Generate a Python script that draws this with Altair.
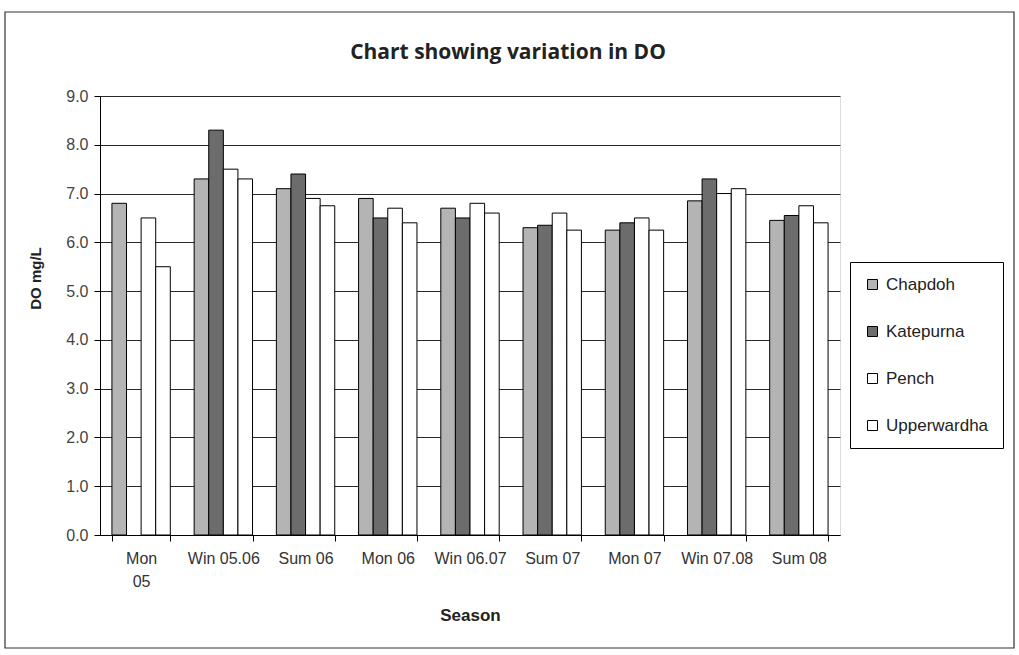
import altair as alt
import pandas as pd

# Seasons on the x axis
seasons = ["Mon 05", "Win 05.06", "Sum 06", "Mon 06", "Win 06.07",
           "Sum 07", "Mon 07", "Win 07.08", "Sum 08"]

# Dissolved oxygen (mg/L) per reservoir and season
chapdoh = [6.8, 7.3, 7.1, 6.9, 6.7, 6.3, 6.25, 6.85, 6.45]
katepurna = [None, 8.3, 7.4, 6.5, 6.5, 6.35, 6.4, 7.3, 6.55]
pench = [6.5, 7.5, 6.9, 6.7, 6.8, 6.6, 6.5, 7.0, 6.75]
upperwardha = [5.5, 7.3, 6.75, 6.4, 6.6, 6.25, 6.25, 7.1, 6.4]

series = ["Chapdoh", "Katepurna", "Pench", "Upperwardha"]
fills = ["#b4b4b4", "#6c6c6c", "#ffffff", "#ffffff"]

chart_title = "Chart showing variation in DO"

rows = []
for name, vals in zip(series, [chapdoh, katepurna, pench, upperwardha]):
    for s, v in zip(seasons, vals):
        if v is not None:
            rows.append({"Season": s, "Reservoir": name, "DO": v})
df = pd.DataFrame(rows)

FONT = "Liberation Sans"

bars = alt.Chart(df).mark_bar(stroke="black", strokeWidth=1).encode(
    x=alt.X("Season:N", sort=seasons,
            scale=alt.Scale(paddingInner=0.29, paddingOuter=0.145),
            axis=alt.Axis(title="Season", labelAngle=0, tickBand="extent",
                          labelExpr="datum.label == 'Mon 05' ? ['Mon', '05'] : datum.label",
                          labelFontSize=16, labelColor="#333", labelFont=FONT,
                          labelLineHeight=23, labelPadding=9,
                          tickSize=6, tickColor="black", domainColor="black",
                          titleFont=FONT, titleFontSize=17, titleFontWeight="bold",
                          titlePadding=18, titleColor="#222")),
    xOffset=alt.XOffset("Reservoir:N", sort=series,
                        scale=alt.Scale(domain=series, paddingInner=0, paddingOuter=0)),
    y=alt.Y("DO:Q", scale=alt.Scale(domain=[0, 9], nice=False),
            axis=alt.Axis(title="DO mg/L", values=list(range(10)), format=".1f",
                          grid=True, gridColor="#2a2a2a", gridWidth=1,
                          labelFontSize=16, labelColor="#444", labelFont=FONT,
                          labelPadding=6, tickSize=6, tickColor="black",
                          domainColor="black", titleFont=FONT, titleFontSize=15,
                          titleFontWeight="bold", titlePadding=22, titleY=182,
                          titleColor="#222")),
    fill=alt.Fill("Reservoir:N", sort=series,
                  scale=alt.Scale(domain=series, range=fills),
                  legend=alt.Legend(title=None, orient="none", legendX=750, legendY=166,
                                    symbolType="square", symbolSize=100,
                                    symbolStrokeColor="black", symbolStrokeWidth=1,
                                    labelFont=FONT, labelFontSize=17, labelColor="#222",
                                    labelOffset=5, rowPadding=29, padding=14,
                                    strokeColor="black", fillColor="white")),
)

# Outer border around the whole chart
frame = alt.Chart(pd.DataFrame({"k": [0]})).mark_rect(
    fill=None, stroke="#333", strokeWidth=1.2
).encode(
    x=alt.value(-95), x2=alt.value(914), y=alt.value(-84), y2=alt.value(552)
)

# Chart heading, centred over the whole frame
heading = alt.Chart(pd.DataFrame({"t": [chart_title]})).mark_text(
    font="Open Sans", fontSize=21, fontWeight="bold", color="#222",
    align="center", baseline="middle"
).encode(
    x=alt.value(408), y=alt.value(-43), text="t:N"
)

chart = alt.layer(frame, heading, bars).properties(
    width=740, height=439,
    autosize=alt.AutoSizeParams(type="none"),
    padding={"left": 100, "top": 96, "right": 179, "bottom": 120},
).configure_view(stroke="black", strokeWidth=1).configure(background="white")

chart.save("out.html", embed_options={"renderer": "svg", "actions": False})
